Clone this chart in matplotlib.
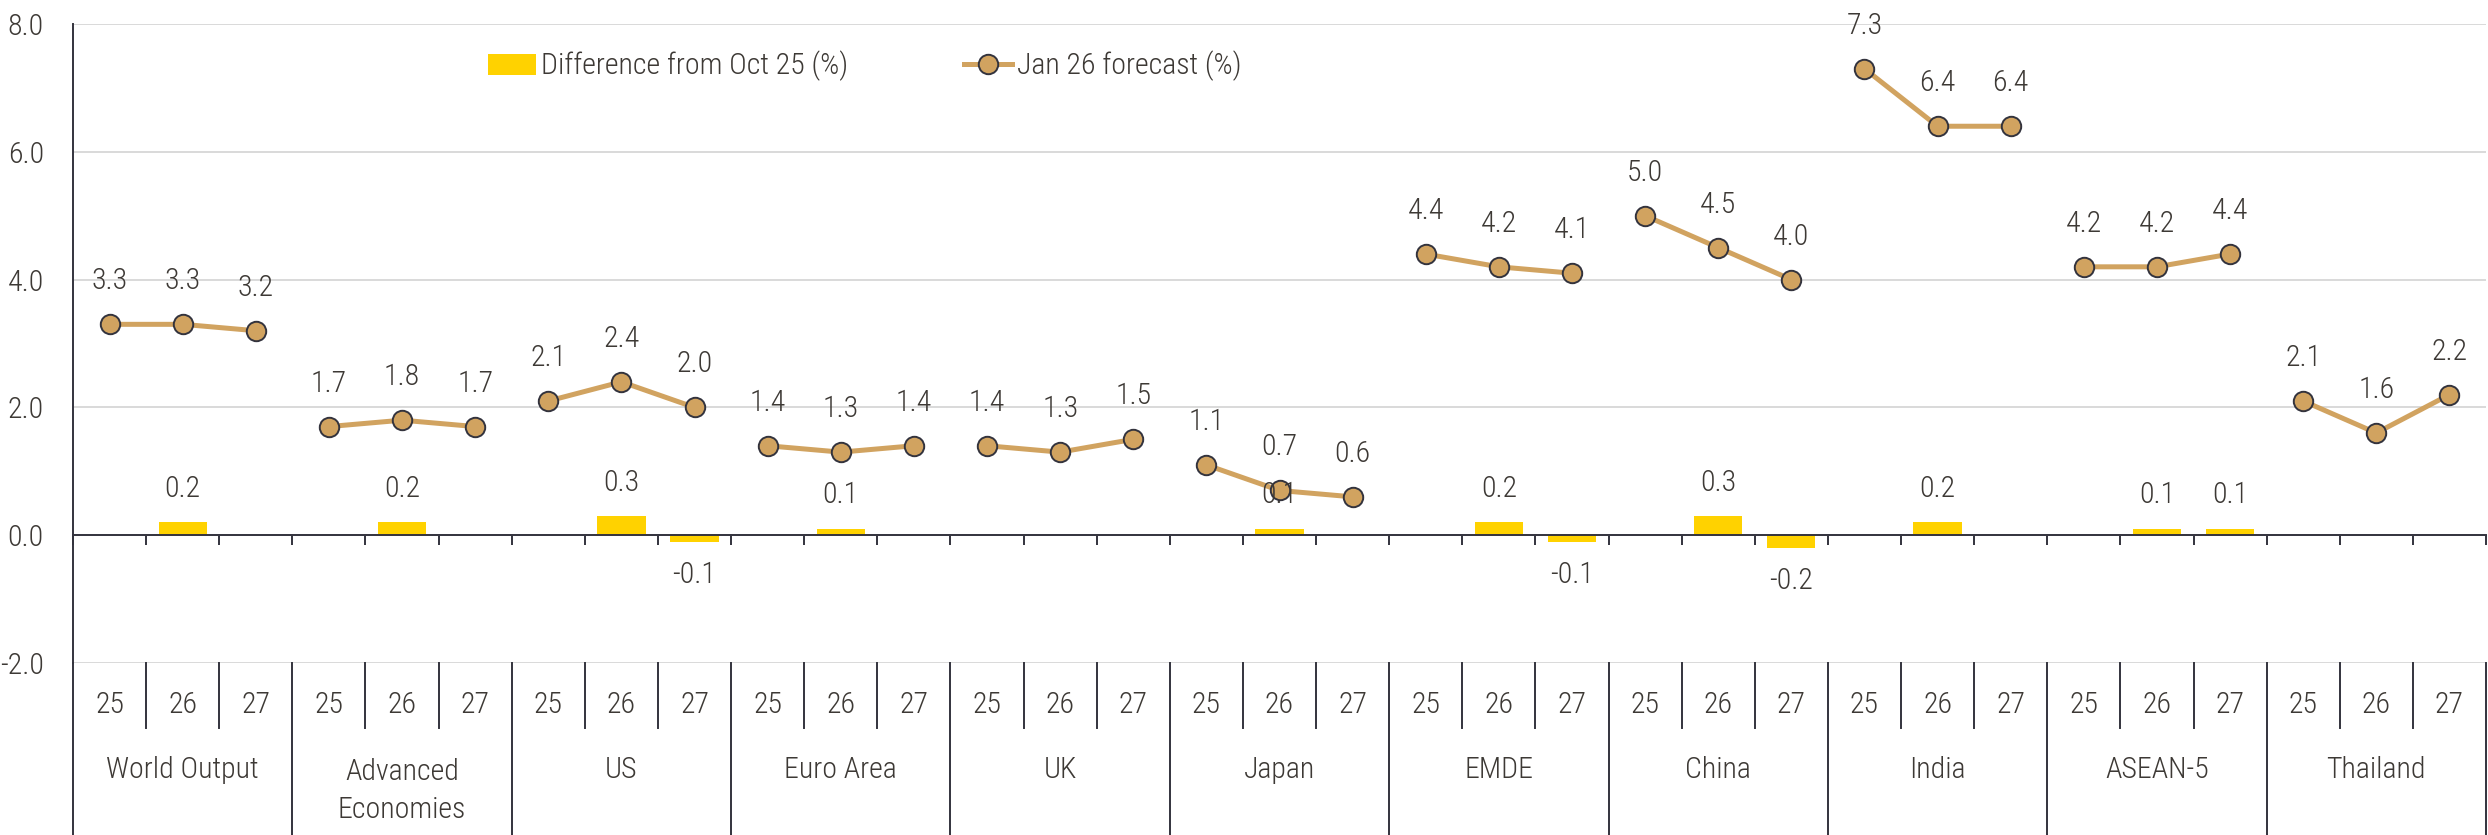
import numpy as np
import matplotlib
matplotlib.use("Agg")
import matplotlib.pyplot as plt
import matplotlib.transforms as mtransforms

plt.rcParams['font.family'] = ['Roboto Condensed', 'Open Sans Condensed', 'Liberation Sans Narrow',
                               'Roboto', 'DejaVu Sans']
plt.rcParams['font.weight'] = 'light'

# ---------------- data ----------------
groups = ["World Output", "Advanced\nEconomies", "US", "Euro Area", "UK", "Japan",
          "EMDE", "China", "India", "ASEAN-5", "Thailand"]
years = ["25", "26", "27"]

forecast = [
    [3.3, 3.3, 3.2],
    [1.7, 1.8, 1.7],
    [2.1, 2.4, 2.0],
    [1.4, 1.3, 1.4],
    [1.4, 1.3, 1.5],
    [1.1, 0.7, 0.6],
    [4.4, 4.2, 4.1],
    [5.0, 4.5, 4.0],
    [7.3, 6.4, 6.4],
    [4.2, 4.2, 4.4],
    [2.1, 1.6, 2.2],
]
nan = np.nan
diff = [
    [nan, 0.2, nan],
    [nan, 0.2, nan],
    [nan, 0.3, -0.1],
    [nan, 0.1, nan],
    [nan, nan, nan],
    [nan, 0.1, nan],
    [nan, 0.2, -0.1],
    [nan, 0.3, -0.2],
    [nan, 0.2, nan],
    [nan, 0.1, 0.1],
    [nan, nan, nan],
]

txt = '#3d3935'
bar_c = '#FFD200'
line_c = '#D1A360'
dark = '#33333d'
grid_c = '#d9d9d9'
fs = 21.5

W, H = 2488, 835
fig = plt.figure(figsize=(W / 100, H / 100), dpi=100)
ax = fig.add_axes([73 / W, 1 - 663 / H, (2486 - 73) / W, (663 - 24) / H])

ng = len(groups)
n = ng * 3
x = np.arange(n)

bar_vals = np.array(diff).ravel()
bars = ax.bar(x, np.nan_to_num(bar_vals), width=0.66, color=bar_c, zorder=2)
for xi, v in zip(x, bar_vals):
    if np.isnan(v):
        continue
    off = 24 if v > 0 else -24
    ax.annotate(f"{v:.1f}", (xi, v), xytext=(0, off), textcoords='offset points',
                ha='center', va='center', fontsize=fs, color=txt, zorder=5)

line = None
for g in range(ng):
    xs = x[g * 3:(g + 1) * 3]
    ys = forecast[g]
    ln, = ax.plot(xs, ys, color=line_c, lw=3.6, marker='o', ms=14, mfc=line_c,
                  mec=dark, mew=1.4, zorder=4)
    if line is None:
        line = ln
    for xi, v in zip(xs, ys):
        ax.annotate(f"{v:.1f}", (xi, v), xytext=(0, 31), textcoords='offset points',
                    ha='center', va='center', fontsize=fs, color=txt, zorder=5)

ax.set_xlim(-0.5, n - 0.5)
ax.set_ylim(-2, 8)
ax.set_yticks(np.arange(-2, 8.1, 2))
ax.set_yticklabels([f"{v:.1f}" for v in np.arange(-2, 8.1, 2)])
ax.tick_params(axis='y', length=0, pad=21, labelsize=fs, labelcolor=txt)
ax.yaxis.grid(True, color=grid_c, lw=1.4, zorder=0)
ax.set_axisbelow(True)

for s in ['top', 'right']:
    ax.spines[s].set_visible(False)
ax.spines['left'].set_color(dark)
ax.spines['left'].set_linewidth(1.4)
ax.spines['bottom'].set_position(('data', 0))
ax.spines['bottom'].set_color(dark)
ax.spines['bottom'].set_linewidth(1.4)
ax.set_xticks(np.arange(n + 1) - 0.5)
ax.set_xticklabels([])
ax.tick_params(axis='x', direction='out', length=7, width=1.4, color=dark)

# category axis table below the plot
trans = mtransforms.blended_transform_factory(ax.transData, ax.transAxes)
ah = 663 - 24
y_top = 0
y_mid = -(728 - 663) / ah
y_bot = -(835 - 663) / ah
for k in range(n + 1):
    xb = k - 0.5
    if k % 3 == 0:
        ax.plot([xb, xb], [y_top, y_bot], color=dark, lw=1.4, transform=trans, clip_on=False)
    else:
        ax.plot([xb, xb], [y_top, y_mid], color=dark, lw=1.4, transform=trans, clip_on=False)

for k in range(n):
    ax.text(k, -(705 - 663) / ah, years[k % 3], transform=trans, ha='center', va='center',
            fontsize=fs, color=txt)
for g, name in enumerate(groups):
    yy = -(770 - 663) / ah if "\n" not in name else -(791 - 663) / ah
    ax.text(g * 3 + 1, yy, name, transform=trans, ha='center', va='center',
            fontsize=fs, color=txt, linespacing=1.45)

leg = ax.legend([bars, line], ['Difference from Oct 25 (%)', 'Jan 26 forecast (%)'],
                ncol=2, loc='center left', bbox_to_anchor=(0.166, 0.934), frameon=False,
                fontsize=fs, labelcolor=txt, columnspacing=3.9, handlelength=1.6,
                handletextpad=0.15, handleheight=0.7, borderpad=0)

fig.savefig('out.png', dpi=100)
